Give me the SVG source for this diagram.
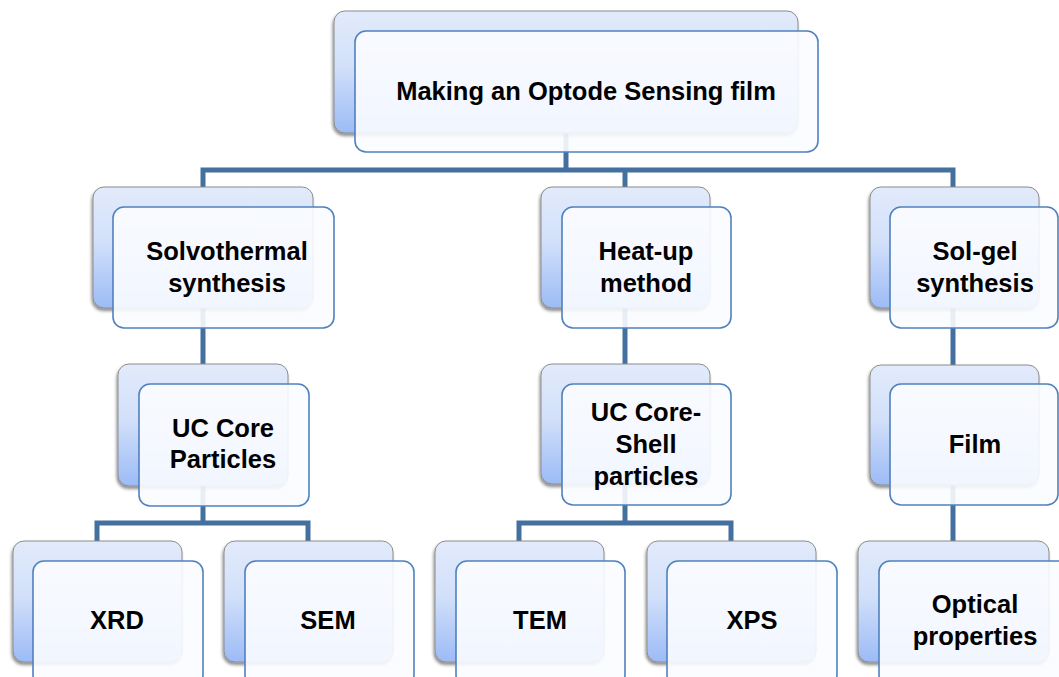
<svg xmlns="http://www.w3.org/2000/svg" width="1059" height="677" viewBox="0 0 1059 677">
  <defs>
    <linearGradient id="backFill" x1="0" y1="0" x2="0" y2="1">
      <stop offset="0" stop-color="#e2ebfb"/>
      <stop offset="0.45" stop-color="#d2e0fa"/>
      <stop offset="1" stop-color="#9cbbf6"/>
    </linearGradient>
    <filter id="shadow" x="-10%" y="-10%" width="120%" height="130%">
      <feDropShadow dx="-1" dy="2.5" stdDeviation="1.6" flood-color="#000" flood-opacity="0.45"/>
    </filter>
    <style>
      .back { fill: url(#backFill); stroke: #8c8c8c; stroke-width: 1; filter: url(#shadow); }
      .front { fill: #fbfcff; fill-opacity: 0.9; stroke: #4f81bd; stroke-width: 1.6; }
      .conn { fill: none; stroke: #4470a0; stroke-width: 5; stroke-linejoin: miter; }
      .label { font-family: "Liberation Sans", Arial, sans-serif; font-weight: bold; font-size: 25.5px; fill: #000; text-anchor: middle; }
      .title { font-size: 25.5px; }
    </style>
  </defs>

  <rect width="1059" height="677" fill="#ffffff"/>

  <!-- connectors -->
  <g id="connectors">
    <path class="conn" d="M566,133 V170"/>
    <path class="conn" d="M203,188 V170 H953 V188"/>
    <path class="conn" d="M625,170 V188"/>
    <path class="conn" d="M203,308 V365"/>
    <path class="conn" d="M625,308 V365"/>
    <path class="conn" d="M953,308 V365"/>
    <path class="conn" d="M203,486 V523"/>
    <path class="conn" d="M97,542 V523 H308 V542"/>
    <path class="conn" d="M625,484 V523"/>
    <path class="conn" d="M519,542 V523 H731 V542"/>
    <path class="conn" d="M953,485 V542"/>
  </g>

  <!-- root -->
  <g id="node-optode-film">
    <rect class="back" x="334" y="11" width="464" height="122" rx="11"/>
    <rect class="front" x="355" y="31" width="463" height="121" rx="11"/>
    <text class="label title" x="586" y="100">Making an Optode Sensing film</text>
  </g>

  <!-- synthesis routes -->
  <g id="node-solvothermal">
    <rect class="back" x="93" y="187" width="220" height="121" rx="11"/>
    <rect class="front" x="113" y="207" width="221" height="121" rx="11"/>
    <text class="label" x="227" y="260">Solvothermal</text>
    <text class="label" x="227" y="292">synthesis</text>
  </g>
  <g id="node-heat-up">
    <rect class="back" x="541" y="187" width="169" height="121" rx="11"/>
    <rect class="front" x="562" y="207" width="169" height="121" rx="11"/>
    <text class="label" x="646" y="260">Heat-up</text>
    <text class="label" x="646" y="292">method</text>
  </g>
  <g id="node-sol-gel">
    <rect class="back" x="870" y="187" width="169" height="121" rx="11"/>
    <rect class="front" x="890" y="207" width="168" height="121" rx="11"/>
    <text class="label" x="975" y="260">Sol-gel</text>
    <text class="label" x="975" y="292">synthesis</text>
  </g>

  <!-- products -->
  <g id="node-uc-core">
    <rect class="back" x="118" y="364" width="170" height="122" rx="11"/>
    <rect class="front" x="139" y="384" width="170" height="122" rx="11"/>
    <text class="label" x="223" y="437">UC Core</text>
    <text class="label" x="223" y="468">Particles</text>
  </g>
  <g id="node-uc-core-shell">
    <rect class="back" x="541" y="364" width="169" height="120" rx="11"/>
    <rect class="front" x="562" y="384" width="169" height="121" rx="11"/>
    <text class="label" x="646" y="421">UC Core-</text>
    <text class="label" x="646" y="453">Shell</text>
    <text class="label" x="646" y="485">particles</text>
  </g>
  <g id="node-film">
    <rect class="back" x="870" y="365" width="169" height="120" rx="11"/>
    <rect class="front" x="890" y="384" width="168" height="121" rx="11"/>
    <text class="label" x="975" y="453">Film</text>
  </g>

  <!-- characterisation -->
  <g id="node-xrd">
    <rect class="back" x="13" y="541" width="169" height="121" rx="11"/>
    <rect class="front" x="33" y="561" width="170" height="125" rx="11"/>
    <text class="label" x="117" y="629">XRD</text>
  </g>
  <g id="node-sem">
    <rect class="back" x="224" y="541" width="169" height="121" rx="11"/>
    <rect class="front" x="245" y="561" width="169" height="125" rx="11"/>
    <text class="label" x="328" y="629">SEM</text>
  </g>
  <g id="node-tem">
    <rect class="back" x="435" y="541" width="169" height="121" rx="11"/>
    <rect class="front" x="456" y="561" width="169" height="125" rx="11"/>
    <text class="label" x="540" y="629">TEM</text>
  </g>
  <g id="node-xps">
    <rect class="back" x="647" y="541" width="169" height="121" rx="11"/>
    <rect class="front" x="667" y="561" width="170" height="125" rx="11"/>
    <text class="label" x="752" y="629">XPS</text>
  </g>
  <g id="node-optical">
    <rect class="back" x="858" y="541" width="191" height="121" rx="11"/>
    <rect class="front" x="879" y="561" width="192" height="125" rx="11"/>
    <text class="label" x="975" y="613">Optical</text>
    <text class="label" x="975" y="645">properties</text>
  </g>
</svg>
